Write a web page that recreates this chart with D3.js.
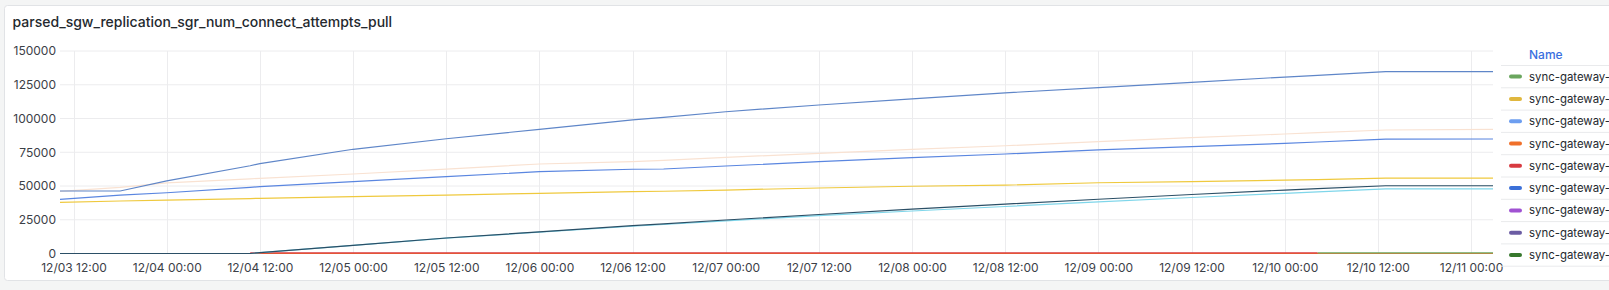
<!DOCTYPE html>
<html>
<head>
<meta charset="utf-8">
<script src="https://cdn.jsdelivr.net/npm/d3@7"></script>
<style>
    body { margin: 0; background: #f4f5f5; font-family: Inter, "Open Sans", sans-serif; }
    svg { display: block; }
</style>
</head>
<body>
<svg id="chart" width="1609" height="290"></svg>
<script>
// sample times (shared by all series)
var times = ["2024-12-03 10:15", "2024-12-03 18:00", "2024-12-04 00:00", "2024-12-04 10:45", "2024-12-04 12:00",
    "2024-12-05 00:00", "2024-12-05 12:00", "2024-12-06 00:00", "2024-12-06 12:00", "2024-12-06 16:00",
    "2024-12-07 00:00", "2024-12-07 12:00", "2024-12-08 00:00", "2024-12-08 12:00", "2024-12-09 00:00",
    "2024-12-09 12:00", "2024-12-10 00:00", "2024-12-10 04:15", "2024-12-10 13:00", "2024-12-11 02:50"];

var topBlue = [46300, 46300, 53800, 65000, 66600, 77200, 85000, 92000, 99000, 100800,
    105000, 110000, 114500, 119000, 122800, 126800, 130700, 132000, 134700, 134700];
var peach = [46000, 49000, 52300, 55300, 55700, 58900, 62500, 66300, 68000, 69000,
    71200, 74200, 77100, 79800, 82800, 85800, 88500, 89500, 91500, 92000];
var midBlue = [40100, 43300, 45000, 49000, 49500, 53200, 56900, 60600, 62400, 62600,
    64800, 68000, 71000, 73700, 76700, 79100, 81600, 82600, 84700, 84800];
var yellow = [37900, 38900, 39600, 40700, 40900, 42100, 43300, 44600, 45800, 46100,
    47000, 48500, 49800, 50700, 52400, 53200, 54400, 54700, 55900, 55900];
var navy = [0, 0, 0, 0, 600, 6000, 11500, 16000, 20600, 22000,
    24800, 28900, 32800, 36600, 40200, 43700, 47000, 48000, 50200, 50200];
var cyan = [0, 0, 0, 0, 600, 6000, 11400, 15800, 20200, 21500,
    24200, 28000, 31500, 34800, 38300, 41500, 44600, 45600, 47800, 47800];
var orange = [null, null, null, 0, 0, 0, 0, 0, 0, 0, 0, 0, 0, 0, 0, 0, 0, 0, 0, 0];
var red = [null, null, null, 500, 500, 500, 500, 500, 500, 500, 500, 500, 500, 500, 500, 500, 500, 500, null, null];
var green = [null, null, null, null, null, null, null, null, null, null, null, null, null, null, null, null, null, 500, 500, 500];

var yTicks = [0, 25000, 50000, 75000, 100000, 125000, 150000];

var legendNames = ["sync-gateway-", "sync-gateway-", "sync-gateway-", "sync-gateway-", "sync-gateway-",
    "sync-gateway-", "sync-gateway-", "sync-gateway-", "sync-gateway-"];
var legendColors = ["#6aa65e", "#e0b73e", "#6d9ef0", "#f0702a", "#d83a40", "#3b70d8", "#a052d2", "#6b5ca3", "#37782d"];

var parse = d3.timeParse("%Y-%m-%d %H:%M");
var dates = times.map(parse);

// drawn bottom to top
var series = [
    {values: orange, color: "#f0702a"},
    {values: red, color: "#d83a40"},
    {values: green, color: "#6aa65e"},
    {values: peach, color: "#f9e2d2"},
    {values: yellow, color: "#efc93e"},
    {values: midBlue, color: "#5a86e0"},
    {values: topBlue, color: "#5f86c8"},
    {values: cyan, color: "#7fd6ea"},
    {values: navy, color: "#2b4f66"}
];

var svg = d3.select("#chart");

// panel
svg.append("rect")
    .attr("x", 4.5).attr("y", 5.5)
    .attr("width", 1640).attr("height", 275)
    .attr("rx", 3)
    .attr("fill", "#ffffff")
    .attr("stroke", "#e1e3e6");

svg.append("text")
    .attr("x", 12.5).attr("y", 26.5)
    .style("font-size", "14px")
    .style("font-weight", 500)
    .attr("fill", "#24292e")
    .text("parsed_sgw_replication_sgr_num_connect_attempts_pull");

var x = d3.scaleTime().domain([dates[0], dates[dates.length - 1]]).range([60, 1493]);
var y = d3.scaleLinear().domain([0, 150000]).range([253.5, 51]);
var xTicks = d3.timeHour.every(12).range(dates[0], dates[dates.length - 1]);

// grid
var grid = svg.append("g").attr("class", "grid");
grid.selectAll("line.h").data(yTicks).enter().append("line")
    .attr("x1", 60).attr("x2", 1493)
    .attr("y1", function(d) { return y(d); })
    .attr("y2", function(d) { return y(d); })
    .attr("stroke", "#ececee");
grid.selectAll("line.v").data(xTicks).enter().append("line")
    .attr("y1", 51).attr("y2", 253.5)
    .attr("x1", function(d) { return Math.round(x(d)) + 0.5; })
    .attr("x2", function(d) { return Math.round(x(d)) + 0.5; })
    .attr("stroke", "#ececee");

// axes
var yAxis = svg.append("g")
    .attr("transform", "translate(56,0)")
    .call(d3.axisLeft(y).tickValues(yTicks).tickSize(0).tickPadding(0).tickFormat(d3.format("d")));
var xAxis = svg.append("g")
    .attr("transform", "translate(0,263)")
    .call(d3.axisBottom(x).tickValues(xTicks).tickSize(0).tickPadding(0).tickFormat(d3.timeFormat("%m/%d %H:%M")));
[yAxis, xAxis].forEach(function(a) {
    a.select(".domain").remove();
    a.selectAll("text")
        .style("font-family", "Inter, sans-serif")
        .style("font-size", "12px")
        .attr("fill", "#3b4047");
});

// lines
var line = d3.line()
    .defined(function(d) { return d[1] !== null; })
    .x(function(d) { return x(d[0]); })
    .y(function(d) { return y(d[1]); });

svg.append("g").selectAll("path").data(series).enter().append("path")
    .attr("d", function(s) { return line(dates.map(function(t, i) { return [t, s.values[i]]; })); })
    .attr("fill", "none")
    .attr("stroke", function(s) { return s.color; })
    .attr("stroke-width", 1.2);

// legend
var legend = svg.append("g").attr("class", "legend");
legend.append("text")
    .attr("x", 1529).attr("y", 59)
    .style("font-size", "12px")
    .style("font-weight", 500)
    .attr("fill", "#3a6fe0")
    .text("Name");

var rowH = 22.3;
legend.selectAll("line.sep").data(d3.range(legendNames.length + 1)).enter().append("line")
    .attr("x1", 1501).attr("x2", 1609)
    .attr("y1", function(i) { return 65.5 + i * rowH; })
    .attr("y2", function(i) { return 65.5 + i * rowH; })
    .attr("stroke", "#e9eaec");

var rows = legend.selectAll("g.row").data(legendNames).enter().append("g")
    .attr("transform", function(d, i) { return "translate(0," + (76.6 + i * rowH) + ")"; });
rows.append("line")
    .attr("x1", 1511).attr("x2", 1520)
    .attr("stroke", function(d, i) { return legendColors[i]; })
    .attr("stroke-width", 4)
    .attr("stroke-linecap", "round");
rows.append("text")
    .attr("x", 1529).attr("dy", "0.35em")
    .style("font-size", "11.4px")
    .attr("fill", "#24292e")
    .text(function(d) { return d; });
</script>
</body>
</html>
